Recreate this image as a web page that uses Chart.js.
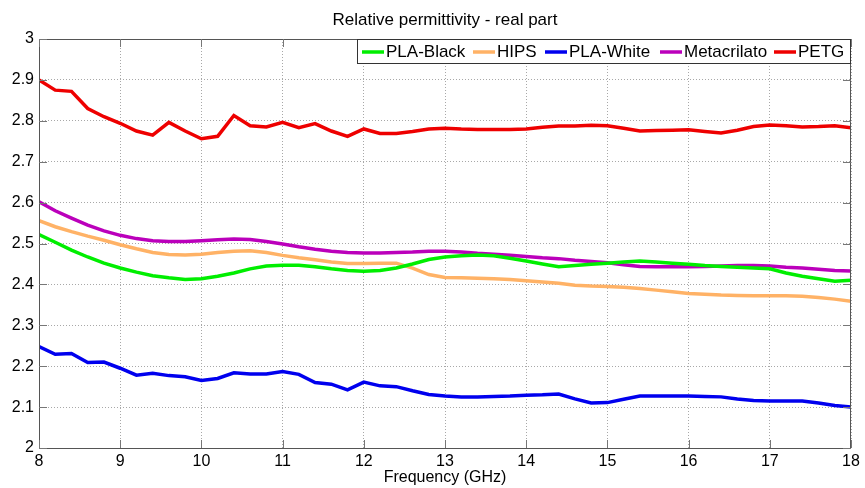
<!DOCTYPE html>
<html>
<head>
<meta charset="utf-8">
<script src="https://cdn.jsdelivr.net/npm/chart.js@4/dist/chart.umd.min.js"></script>
<style>
html,body{margin:0;padding:0;background:#fff;}
#wrap{width:865px;height:488px;position:relative;}
</style>
</head>
<body>
<div id="wrap"><canvas id="c" width="865" height="488"></canvas></div>
<script>
const frequency = [8.0,8.2,8.4,8.6,8.8,9.0,9.2,9.4,9.6,9.8,10.0,10.2,10.4,10.6,10.8,11.0,11.2,11.4,11.6,11.8,12.0,12.2,12.4,12.6,12.8,13.0,13.2,13.4,13.6,13.8,14.0,14.2,14.4,14.6,14.8,15.0,15.2,15.4,15.6,15.8,16.0,16.2,16.4,16.6,16.8,17.0,17.2,17.4,17.6,17.8,18.0];

const plaBlack = [2.522,2.503,2.484,2.467,2.452,2.440,2.430,2.421,2.416,2.412,2.414,2.420,2.428,2.438,2.445,2.447,2.447,2.443,2.438,2.434,2.432,2.434,2.440,2.450,2.461,2.467,2.470,2.472,2.470,2.464,2.457,2.450,2.443,2.446,2.449,2.452,2.455,2.457,2.455,2.452,2.449,2.446,2.444,2.442,2.440,2.438,2.428,2.420,2.414,2.408,2.410];

const hips = [2.556,2.541,2.529,2.518,2.508,2.497,2.487,2.478,2.473,2.472,2.474,2.478,2.481,2.482,2.478,2.471,2.465,2.460,2.455,2.451,2.451,2.452,2.452,2.440,2.424,2.417,2.416,2.415,2.414,2.412,2.409,2.406,2.403,2.398,2.396,2.395,2.393,2.390,2.386,2.382,2.378,2.376,2.374,2.373,2.372,2.372,2.372,2.371,2.368,2.364,2.359];

const plaWhite = [2.248,2.229,2.231,2.209,2.210,2.195,2.178,2.183,2.177,2.174,2.165,2.170,2.184,2.181,2.181,2.187,2.180,2.160,2.156,2.142,2.161,2.152,2.150,2.140,2.131,2.127,2.125,2.125,2.126,2.127,2.129,2.130,2.132,2.120,2.110,2.111,2.119,2.127,2.127,2.127,2.127,2.126,2.125,2.120,2.116,2.115,2.115,2.115,2.110,2.104,2.100];

const metacrilato = [2.602,2.580,2.562,2.545,2.531,2.520,2.512,2.507,2.505,2.505,2.507,2.509,2.511,2.510,2.505,2.499,2.492,2.486,2.481,2.478,2.477,2.477,2.478,2.479,2.481,2.481,2.479,2.476,2.474,2.471,2.468,2.465,2.463,2.459,2.456,2.453,2.448,2.444,2.443,2.443,2.443,2.444,2.445,2.446,2.446,2.445,2.442,2.440,2.437,2.434,2.433];

const petg = [2.900,2.875,2.872,2.830,2.810,2.794,2.775,2.765,2.796,2.775,2.756,2.762,2.813,2.788,2.785,2.796,2.783,2.793,2.775,2.762,2.780,2.769,2.769,2.774,2.780,2.782,2.780,2.779,2.779,2.779,2.780,2.784,2.787,2.787,2.789,2.788,2.782,2.775,2.776,2.777,2.778,2.774,2.770,2.777,2.786,2.790,2.788,2.785,2.786,2.788,2.783];

const seriesNames = ["PLA-Black","HIPS","PLA-White","Metacrilato","PETG"];
const seriesValues = [plaBlack, hips, plaWhite, metacrilato, petg];
const seriesColors = ["#00ee00","#ffb266","#0000ee","#bb00bb","#ee0000"];

const FONT = '"Liberation Sans", Arial, sans-serif';

const datasets = seriesNames.map((name, i) => ({
  label: name,
  data: frequency.map((f, j) => ({x: f, y: seriesValues[i][j]})),
  borderColor: seriesColors[i],
  backgroundColor: seriesColors[i],
  borderWidth: 3.5,
  pointRadius: 0,
  tension: 0,
  fill: false
}));

const framePlugin = {
  id: 'frame',
  afterDatasetsDraw(chart) {
    const {ctx, chartArea: a} = chart;
    ctx.save();
    ctx.setLineDash([]);
    ctx.strokeStyle = '#555';
    ctx.lineWidth = 1;
    ctx.strokeRect(a.left + 0.5, a.top + 0.5, a.right - a.left - 1, a.bottom - a.top);
    const xs = chart.scales.x, ys = chart.scales.y;
    ctx.strokeStyle = '#777';
    ys.ticks.forEach(t => {
      const y = Math.round(ys.getPixelForValue(t.value)) + 0.5;
      ctx.beginPath(); ctx.moveTo(a.left, y); ctx.lineTo(a.left + 8, y); ctx.stroke();
      ctx.beginPath(); ctx.moveTo(a.right, y); ctx.lineTo(a.right - 8, y); ctx.stroke();
    });
    xs.ticks.forEach(t => {
      const x = Math.round(xs.getPixelForValue(t.value)) + 0.5;
      ctx.beginPath(); ctx.moveTo(x, a.bottom); ctx.lineTo(x, a.bottom - 8); ctx.stroke();
      ctx.beginPath(); ctx.moveTo(x, a.top); ctx.lineTo(x, a.top + 8); ctx.stroke();
    });
    ctx.fillStyle = '#000';
    ctx.font = '17px ' + FONT;
    ctx.textAlign = 'center';
    ctx.textBaseline = 'alphabetic';
    ctx.fillText('Relative permittivity - real part', 445, 25);
    const boxL = 357, boxT = 39, boxR = a.right, boxB = 63;
    ctx.fillStyle = '#fff';
    ctx.fillRect(boxL, boxT, boxR - boxL, boxB - boxT);
    ctx.strokeStyle = '#333';
    ctx.strokeRect(boxL + 0.5, boxT + 0.5, boxR - boxL - 1, boxB - boxT);
    const starts = [362, 473, 545, 660, 774];
    ctx.font = '17px ' + FONT;
    ctx.textAlign = 'left';
    ctx.textBaseline = 'middle';
    chart.data.datasets.forEach((ds, i) => {
      const x0 = starts[i];
      const ym = (boxT + boxB) / 2 + 1;
      ctx.strokeStyle = ds.borderColor;
      ctx.lineWidth = 3.5;
      ctx.beginPath(); ctx.moveTo(x0, ym); ctx.lineTo(x0 + 22, ym); ctx.stroke();
      ctx.fillStyle = '#000';
      ctx.fillText(ds.label, x0 + 24, ym);
    });
    ctx.restore();
  }
};

new Chart(document.getElementById('c'), {
  type: 'line',
  data: {datasets},
  options: {
    responsive: false,
    animation: false,
    layout: {padding: {top: 39, right: 14, left: 0, bottom: 0}},
    plugins: {legend: {display: false}, title: {display: false}, tooltip: {enabled: false}},
    scales: {
      x: {
        type: 'linear', min: 8, max: 18,
        afterFit: s => { s.height = 40; },
        border: {display: false, dash: [1, 2]},
        grid: {color: '#a8a8a8', drawTicks: false, lineWidth: 1},
        ticks: {stepSize: 1, color: '#000', font: {family: FONT, size: 16}, padding: 4, maxRotation: 0,
                callback: v => String(v)},
        title: {display: true, text: 'Frequency (GHz)', color: '#000', font: {family: FONT, size: 16}, padding: {top: 0, bottom: 1}}
      },
      y: {
        type: 'linear', min: 2, max: 3,
        afterFit: s => { s.width = 39; },
        border: {display: false, dash: [1, 2]},
        grid: {color: '#a8a8a8', drawTicks: false, lineWidth: 1},
        ticks: {stepSize: 0.1, color: '#000', font: {family: FONT, size: 16}, padding: 5,
                callback: v => { const r = Math.round(v * 10) / 10; return Number.isInteger(r) ? String(r) : r.toFixed(1); }}
      }
    }
  },
  plugins: [framePlugin]
});
</script>
</body>
</html>
